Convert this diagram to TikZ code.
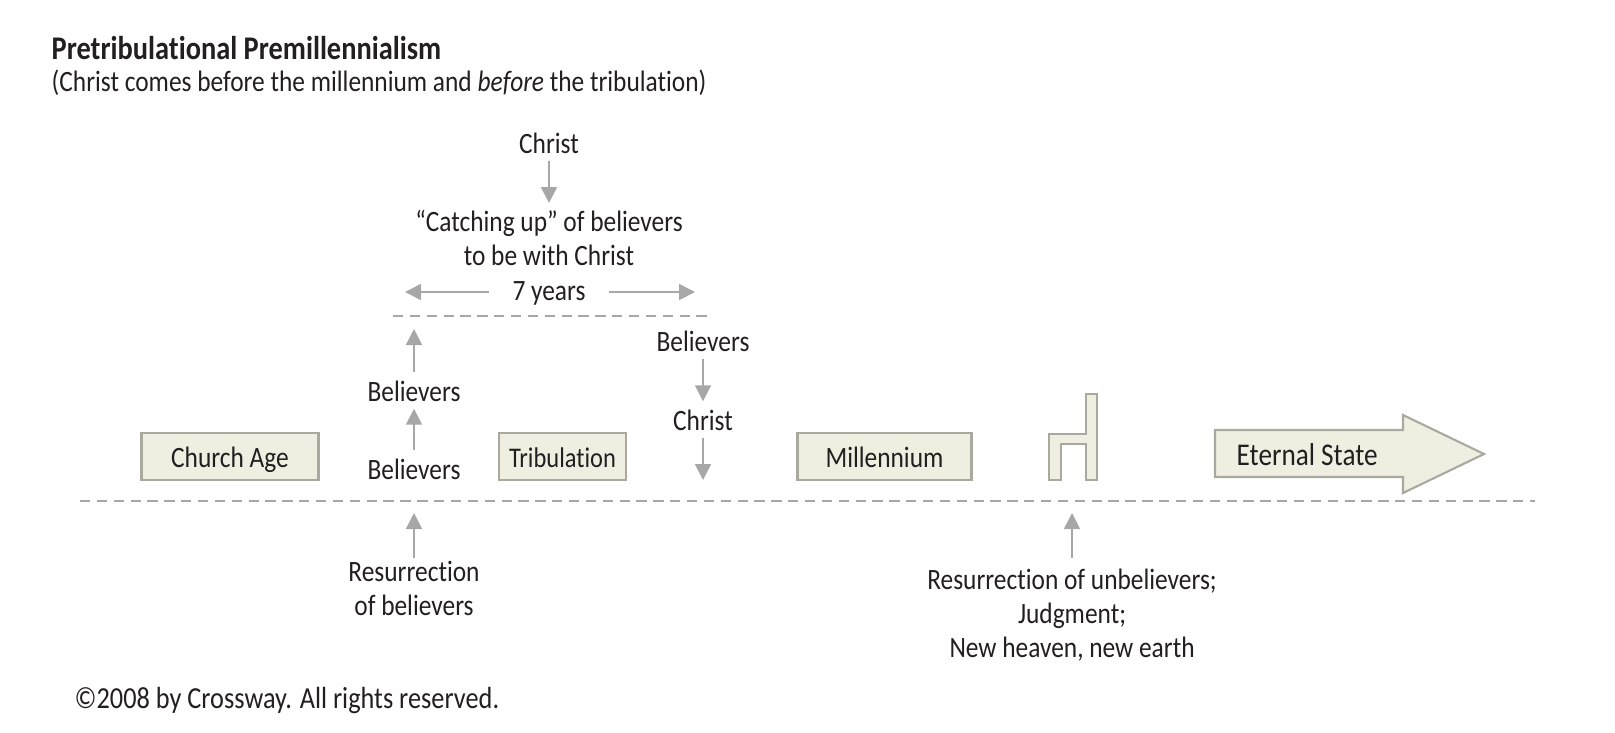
\documentclass[tikz,border=0pt]{standalone}
\usepackage{fontspec}
\setmainfont[FakeStretch=0.86,Ligatures=CommonOff]{Carlito}
\usetikzlibrary{calc,positioning,arrows.meta}
\definecolor{crossInk}{HTML}{231F20}
\definecolor{crossGray}{HTML}{A7A7A7}
\definecolor{crossEdge}{HTML}{A9A9A0}
\definecolor{crossFill}{HTML}{F0EEE0}

\begin{document}
\begin{tikzpicture}[
  every node/.style={text=crossInk},
  txt/.style={inner sep=0pt, anchor=base, text height=2.8mm, text depth=0.7mm,
              font=\fontsize{8.4pt}{9.7pt}\selectfont},
  para/.style={inner sep=0pt, anchor=north, align=center,
              font=\fontsize{8.4pt}{9.7pt}\selectfont},
  period/.style={draw=crossEdge, fill=crossFill, line width=0.6pt, inner sep=0pt,
              minimum height=4.75mm, text height=2.2mm, text depth=0pt,
              font=\fontsize{8.4pt}{9.7pt}\selectfont},
  solid shape/.style={draw=crossEdge, fill=crossFill, line width=0.6pt, miter limit=8},
  fl/.style={-{Triangle[length=1.6mm,width=1.6mm]}, draw=crossGray, line width=0.5pt},
  dashline/.style={draw=crossGray, line width=0.6pt, dash pattern=on 1.03mm off 0.656mm}
]
\useasboundingbox (0,0) rectangle (16.15,7.32);

% ---- heading
\node[inner sep=0pt, anchor=base west, font=\fontsize{9.4pt}{10pt}\selectfont\bfseries] (title) at (0.51,6.73) {Pretribulational Premillennialism};
\node[inner sep=0pt, anchor=base west, font=\fontsize{8.4pt}{10pt}\selectfont] (sub) at (0.51,6.41) {(Christ comes before the millennium and \textit{before} the tribulation)};

% ---- time lines
\coordinate (mainL) at (0.80,2.31);
\coordinate (mainR) at (15.35,2.31);
\draw[dashline] (mainL) -- (mainR);
\coordinate (upperL) at (3.93,4.16);
\coordinate (upperR) at (7.08,4.16);
\draw[dashline] (upperL) -- (upperR);

% ---- periods
\node[period, minimum width=17.7mm] (church) at (2.30,2.755) {Church Age};
\node[period, minimum width=12.7mm, font=\fontsize{8.1pt}{9.7pt}\selectfont] (trib) at (5.625,2.755) {Tribulation};
\node[period, minimum width=17.4mm] (mill) at (8.845,2.755) {Millennium};

% ---- rapture
\node[txt] (christA) at (5.49,5.79) {Christ};
\node[para] (catch) at (5.49,5.23) {``Catching up'' of believers\\to be with Christ};
\draw[fl, shorten >=0.6mm] (christA) -- (catch);
\node[txt, text height=2.3mm, inner xsep=2.3mm] (years) at (5.49,4.32) {7 years};
\coordinate (yearsL) at (4.05,4.40);
\coordinate (yearsR) at (6.95,4.40);
\draw[fl] (years.west) -- (yearsL);
\draw[fl] (years.east) -- (yearsR);

% ---- believers going up
\node[txt] (belA) at (4.14,2.53) {Believers};
\node[txt] (belB) at (4.14,3.31) {Believers};
\coordinate (belTop) at (4.14,4.03);
\draw[fl] (belA) -- (belB);
\draw[fl] (belB) -- (belTop);

% ---- return with believers
\node[txt] (belC) at (7.03,3.81) {Believers};
\node[txt] (christB) at (7.03,3.02) {Christ};
\coordinate (christEnd) at (7.03,2.52);
\draw[fl] (belC) -- (christB);
\draw[fl] (christB) -- (christEnd);

% ---- throne
\draw[solid shape] (10.86,3.38) -- (10.97,3.38) -- (10.97,2.52) -- (10.86,2.52) -- (10.86,2.88)
  -- (10.61,2.88) -- (10.61,2.52) -- (10.49,2.52) -- (10.49,2.98) -- (10.86,2.98) -- cycle;

% ---- eternal state
\draw[solid shape] (12.15,3.02) -- (14.03,3.02) -- (14.03,3.17) -- (14.84,2.78) -- (14.03,2.39)
  -- (14.03,2.55) -- (12.15,2.55) -- cycle;
\node[inner sep=0pt, anchor=base west, font=\fontsize{9pt}{10pt}\selectfont] (eternal) at (12.36,2.67) {Eternal State};

% ---- resurrections
\node[para] (resA) at (4.14,1.715) {Resurrection\\of believers};
\coordinate (resAtop) at (4.14,2.19);
\draw[fl, shorten <=0.3mm] (resA) -- (resAtop);
\node[para] (resB) at (10.72,1.64) {Resurrection of unbelievers;\\Judgment;\\New heaven, new earth};
\coordinate (resBtop) at (10.72,2.19);
\draw[fl, shorten <=1.0mm] (resB) -- (resBtop);

% ---- credit
\node[inner sep=0pt, anchor=base west, font=\fontsize{8.7pt}{10pt}\selectfont] (credit) at (0.74,0.24) {©2008 by Crossway. All rights reserved.};
\end{tikzpicture}
\end{document}
